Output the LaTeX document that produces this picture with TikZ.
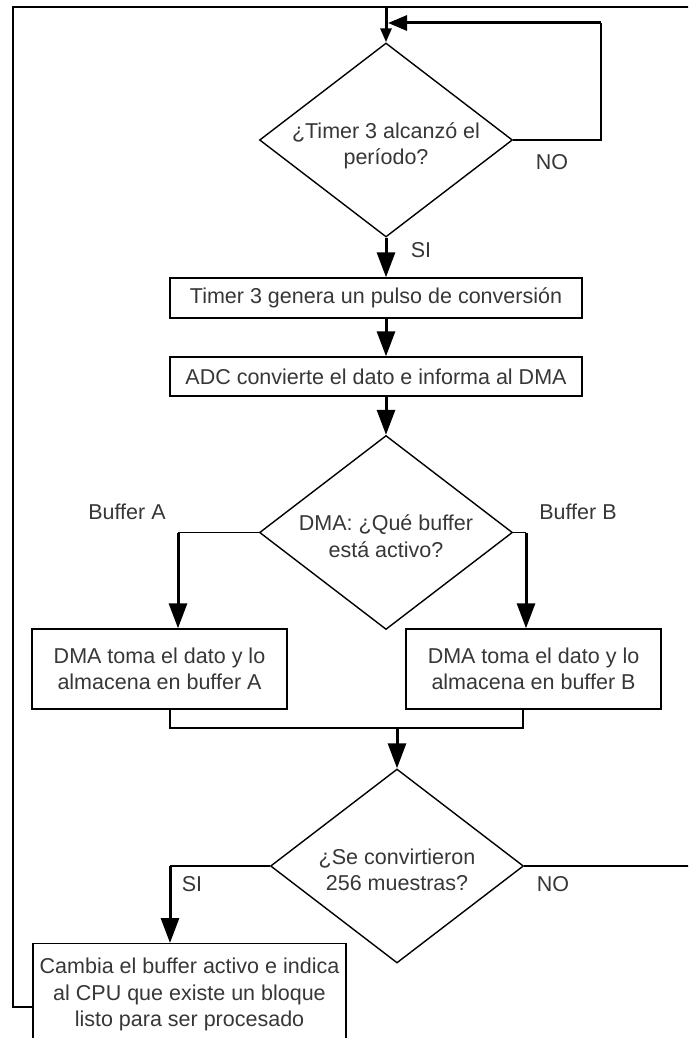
\documentclass[tikz,border=0pt]{standalone}
\usepackage{fontspec}
\setmainfont{Liberation Sans}
\usetikzlibrary{shapes.geometric,arrows.meta,calc}
\definecolor{ink}{RGB}{55,55,55}
\begin{document}
\begin{tikzpicture}[x=1pt,y=-1pt,
  font=\fontsize{21.5}{26.5}\selectfont,
  every node/.style={text=ink},
  procbox/.style={draw=black, line width=1.4pt, inner sep=0pt, align=center},
  decision/.style={draw=black, line width=1.4pt, diamond, inner sep=0pt,
                   minimum width=253pt, minimum height=194pt},
  qtext/.style={align=center, inner sep=0pt},
  lbl/.style={inner sep=0pt},
  link/.style={line width=1.4pt},
  flow/.style={line width=3pt, -{Triangle[length=25pt,width=18pt]}},
  smallflow/.style={line width=3pt, -{Triangle[length=14pt,width=11pt]}},
  loopflow/.style={line width=3pt, -{Triangle[length=19pt,width=15pt]}},
]
\useasboundingbox (0,0) rectangle (688,1038);
\clip (0,0) rectangle (688,1038);
\fill[white] (0,0) rectangle (688,1038);

% decisions and process boxes
\node[decision] (d1) at (386,140) {};
\node[qtext] (t1) at (386,146) {¿Timer 3 alcanzó el\\período?};
\node[procbox, minimum width=412pt, minimum height=40pt] (b1) at (376,298)
  {Timer 3 genera un pulso de conversión};
\node[procbox, minimum width=412pt, minimum height=39pt] (b2) at (376,376.5)
  {ADC convierte el dato e informa al DMA};
\node[decision] (d2) at (386,532.5) {};
\node[qtext] (t2) at (386,536) {DMA: ¿Qué buffer\\está activo?};
\node[procbox, minimum width=255pt, minimum height=80pt] (ba) at (159.5,669)
  {DMA toma el dato y lo\\almacena en buffer A};
\node[procbox, minimum width=255pt, minimum height=80pt] (bb) at (533.5,669)
  {DMA toma el dato y lo\\almacena en buffer B};
\node[decision] (d3) at (397,866) {};
\node[qtext] (t3) at (397,870) {¿Se convirtieron\\256 muestras?};
\node[procbox, minimum width=313pt, minimum height=102pt, anchor=north] (bc) at (189.5,943)
  {Cambia el buffer activo e indica\\al CPU que existe un bloque\\listo para ser procesado};

% routing points
\coordinate (top) at (386,7);
\coordinate (offR) at (720,7);
\coordinate (leftTop) at (13,7);
\coordinate (leftBot) at (13,1007);
\coordinate (lr1) at (601,23);
\coordinate (ja) at (178,532.5);
\coordinate (jb) at (526,532.5);
\coordinate (ma) at (170,728);
\coordinate (mb) at (523,728);
\coordinate (mc) at (397,728);
\coordinate (sa) at (170,866);

% return paths to the start
\draw[link] (bc.west |- leftBot) -- (leftBot) -- (leftTop) -- (top);
\draw[link] (d3.east) -- (d3.east -| offR) -- (offR) -- (top);
\draw[smallflow] (top) -- (d1.north);
\draw[link] (d1.east) -- (d1.east -| lr1) -- (lr1);
\draw[loopflow] (lr1) -- ($(lr1 -| top)+(2,0)$);

% main flow
\draw[flow] (d1.south) -- (d1.south |- b1.north);
\draw[flow] (d1.south |- b1.south) -- (d1.south |- b2.north);
\draw[flow] (d1.south |- b2.south) -- (d2.north);
\draw[link] (d2.west) -- (ja);
\draw[flow] (ja) -- (ja |- ba.north);
\draw[link] (d2.east) -- (jb);
\draw[flow] (jb) -- (jb |- bb.north);
\draw[link] (ma |- ba.south) -- (ma) -- (mb) -- (mb |- bb.south);
\draw[flow] (mc) -- (d3.north);
\draw[link] (d3.west) -- (sa);
\draw[flow] (sa) -- (sa |- bc.north);

% branch labels
\node[lbl] (no1) at (552,162) {NO};
\node[lbl] (si1) at (421,250) {SI};
\node[lbl] (bufA) at (127,512) {Buffer A};
\node[lbl] (bufB) at (578,512) {Buffer B};
\node[lbl] (si2) at (192,884) {SI};
\node[lbl] (no2) at (553,884) {NO};
\end{tikzpicture}
\end{document}
